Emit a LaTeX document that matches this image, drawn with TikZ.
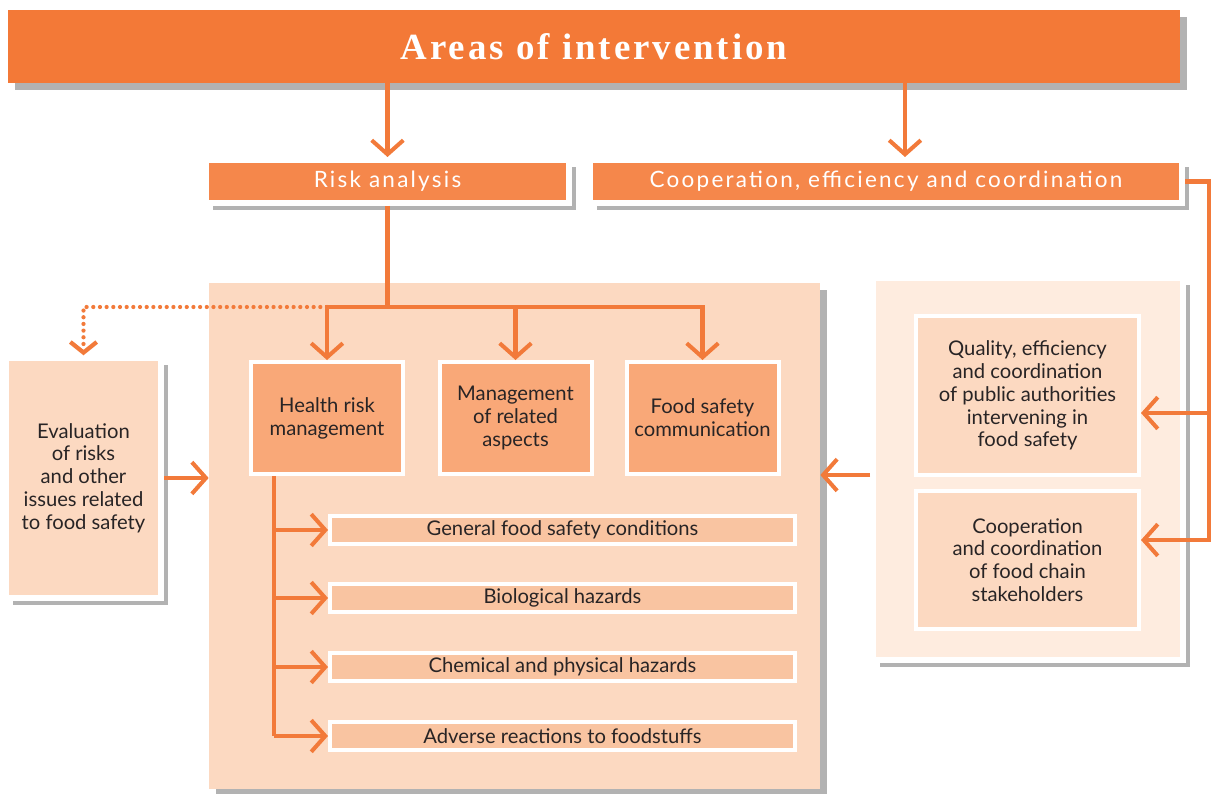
\documentclass[tikz,border=0pt]{standalone}
\usepackage{fontspec}
\setmainfont{Lato}
\newfontfamily\titlefont[LetterSpace=8]{Liberation Serif}
\newfontfamily\barfont[LetterSpace=10]{Lato}
\usetikzlibrary{arrows.meta,shadows,positioning}

\definecolor{deeporange}{RGB}{243,121,55}
\definecolor{baroange}{RGB}{245,135,75}
\definecolor{midorange}{RGB}{249,168,120}
\definecolor{peach}{RGB}{252,217,193}
\definecolor{listpeach}{RGB}{249,196,161}
\definecolor{palepeach}{RGB}{254,236,223}
\definecolor{linkorange}{RGB}{242,122,58}
\definecolor{inkgrey}{RGB}{40,36,37}

\begin{document}
\begin{tikzpicture}[
        boxshadow/.style={drop shadow={shadow xshift=4pt,shadow yshift=-4pt,fill=black!55,opacity=.55}},
        bar/.style={draw=white,line width=0.12cm,fill=baroange,text=white,inner sep=0pt,
            minimum height=0.86cm,font=\barfont\fontsize{12.8}{14}\selectfont,boxshadow},
        subbox/.style={draw=white,line width=0.08cm,fill=midorange,text=inkgrey,align=center,
            inner sep=0pt,font=\fontsize{11.5}{13}\selectfont},
        itembox/.style={draw=white,line width=0.08cm,fill=listpeach,text=inkgrey,inner sep=0pt,
            minimum width=9.3cm,minimum height=0.56cm,font=\fontsize{11.5}{13}\selectfont},
        plainlink/.style={draw=linkorange,line width=2.3pt},
        link/.style={plainlink,-{Straight Barb[length=8pt,width=18pt]}},
        dotlink/.style={draw=linkorange,line width=2.4pt,line cap=round,dash pattern=on 0pt off 3.8pt,
            -{Straight Barb[length=6pt,width=15pt]}}
    ]
        \useasboundingbox (0,0) rectangle (24.36,-15.88);

        % title and the two main areas
        \node[fill=deeporange,minimum width=23.44cm,minimum height=1.46cm,inner sep=0pt,boxshadow,
            text=white,font=\titlefont\bfseries\fontsize{21}{24}\selectfont] (title) at (11.88,-0.93) {Areas of intervention};
        \node[bar,minimum width=7.26cm] (risk) at (7.75,-3.63) {Risk analysis};
        \node[bar,minimum width=11.84cm] (coop) at (17.72,-3.63) {Cooperation, efficiency and coordination};

        % background panels
        \node[fill=peach,minimum width=12.22cm,minimum height=10.12cm,inner sep=0pt,boxshadow] (panel) at (10.29,-10.72) {};
        \node[draw=white,line width=0.12cm,fill=palepeach,minimum width=6.19cm,minimum height=7.64cm,
            inner sep=0pt,boxshadow] (rpanel) at (20.555,-9.38) {};

        % left box
        \node[subbox,fill=peach,line width=0.12cm,minimum width=3.1cm,minimum height=4.79cm,boxshadow] (eval) at (1.67,-9.56)
            {Evaluation\\of risks\\and other\\issues related\\to food safety};

        % risk management boxes
        \node[subbox,minimum width=3.04cm,minimum height=2.24cm] (health) at (6.54,-8.36) {Health risk\\management};
        \node[subbox,minimum width=3.04cm,minimum height=2.24cm] (mgmt) at (10.31,-8.36) {Management\\of related\\aspects};
        \node[subbox,minimum width=3.04cm,minimum height=2.24cm] (comm) at (14.05,-8.36) {Food safety\\communication};

        % hazard list
        \node[itembox] (item1) at (11.25,-10.6) {General food safety conditions};
        \node[itembox] (item2) at (11.25,-11.96) {Biological hazards};
        \node[itembox] (item3) at (11.25,-13.34) {Chemical and physical hazards};
        \node[itembox] (item4) at (11.25,-14.72) {Adverse reactions to foodstuffs};

        % cooperation boxes
        \node[subbox,fill=peach,minimum width=4.46cm,minimum height=3.18cm] (quality) at (20.55,-7.91)
            {Quality, efficiency\\and coordination\\of public authorities\\intervening in\\food safety};
        \node[subbox,fill=peach,minimum width=4.46cm,minimum height=2.76cm] (stake) at (20.55,-11.2)
            {Cooperation\\and coordination\\of food chain\\stakeholders};

        % connectors from the title
        \coordinate (coopin) at ([xshift=0.38cm]coop.north);
        \draw[link] (risk.north |- title.south) -- (risk.north);
        \draw[link] (coopin |- title.south) -- (coopin);

        % risk analysis branches
        \coordinate (fork) at (7.75,-6.14);
        \draw[plainlink] (risk.south) -- (fork);
        \draw[link] (fork) -| (health.north);
        \draw[link] (fork) -| (comm.north);
        \draw[link] (mgmt.north |- fork) -- (mgmt.north);
        \draw[dotlink] (health.north |- fork) -| (eval.north);
        \draw[link] (eval.east) -- (eval.east -| panel.west);

        % health risk management list
        \coordinate (trunk) at ([xshift=-1.06cm]health.south);
        \draw[plainlink] (trunk) -- (trunk |- item4.west);
        \draw[link] (trunk |- item1.west) -- (item1.west);
        \draw[link] (trunk |- item2.west) -- (item2.west);
        \draw[link] (trunk |- item3.west) -- (item3.west);
        \draw[link] (trunk |- item4.west) -- (item4.west);

        % cooperation branches
        \coordinate (rail) at (24.18,-3.63);
        \coordinate (qin) at ([yshift=-0.35cm]quality.east);
        \coordinate (sin) at ([yshift=0.4cm]stake.east);
        \draw[link] (coop.east) -- (rail) |- (sin);
        \draw[link] (rail |- qin) -- (qin);
        \coordinate (rin) at ([yshift=-0.12cm]rpanel.west);
        \draw[link] (rin) -- (rin -| panel.east);
    \end{tikzpicture}
\end{document}
